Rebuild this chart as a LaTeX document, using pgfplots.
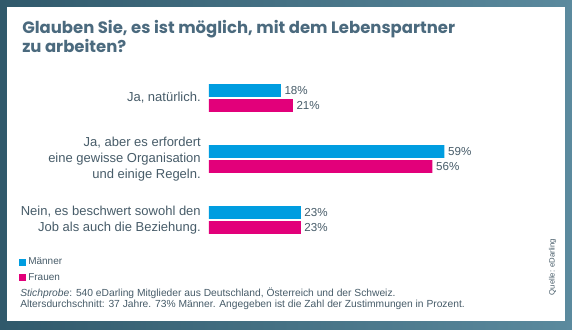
\documentclass[border=0pt]{standalone}
\usepackage{pgfplots}
\pgfplotsset{compat=1.18}
\usepackage{fontspec}
\setmainfont{Liberation Sans}
\newfontfamily\titlefont{Poppins}
\definecolor{bordL}{HTML}{30596B}
\definecolor{bordR}{HTML}{5B8A9E}
\definecolor{titlec}{HTML}{4B6A7E}
\definecolor{txt}{HTML}{475C69}
\definecolor{blueA}{HTML}{009DE0}
\definecolor{pinkA}{HTML}{E2007A}
\begin{document}
\begin{tikzpicture}
\begin{scope}[x=0.75pt,y=-0.75pt]
\shade[left color=bordL, right color=bordR] (0,0) rectangle (572,329);
\fill[white] (7,7) rectangle (565,321);
\node[anchor=base west, inner sep=0pt, align=left, text=titlec,
  font=\titlefont\bfseries\fontsize{12.35}{14.25}\selectfont] at (22,52)
  {Glauben Sie, es ist möglich, mit dem Lebenspartner\\zu arbeiten?};
\node[anchor=base west, inner sep=0pt, align=left, text=txt,
  font=\fontsize{7.7}{8.2}\selectfont] at (20,307)
  {\textit{Stichprobe}: 540 eDarling Mitglieder aus Deutschland, Österreich und der Schweiz.\\
   Altersdurchschnitt: 37 Jahre. 73\% Männer. Angegeben ist die Zahl der Zustimmungen in Prozent.};
\node[rotate=90, inner sep=0pt, text=txt, font=\fontsize{5.8}{6}\selectfont] at (552.5,267) {Quelle: eDarling};
\end{scope}
\begin{axis}[
  at={({209*0.75pt},{-250.5*0.75pt})}, anchor=south west,
  scale only axis, width=239.4pt, height=137.25pt,
  xmin=0, xmax=80, ymin=-0.5, ymax=2.5,
  axis line style={draw=none}, xtick=\empty,
  ytick={0,1,2}, major tick length=0pt,
  yticklabels={{Nein, es beschwert sowohl den\\Job als auch die Beziehung.},
               {Ja, aber es erfordert\\eine gewisse Organisation\\und einige Regeln.},
               {Ja, natürlich.}},
  yticklabel style={align=right, inner sep=0pt, xshift=-6pt, text=txt,
    font=\fontsize{9.75}{12}\selectfont},
  xbar, bar width=9.5pt,
  point meta=x,
  /pgf/number format/assume math mode=true,
  nodes near coords={\pgfmathprintnumber{\pgfplotspointmeta}\%},
  nodes near coords align=horizontal,
  every node near coord/.append style={text=txt, inner sep=2.6pt,
    font=\fontsize{8.7}{10}\selectfont},
  legend style={at={(-0.595,-0.028)}, anchor=north west, draw=none, fill=none,
    inner sep=0pt, row sep=2pt, font=\fontsize{7.5}{9}\selectfont, text=txt,
    nodes={inner sep=1.5pt}},
  legend cell align=left,
]
\addplot[draw=none, fill=blueA, bar shift=5.6pt,
  legend image code/.code={\fill[blueA] (0pt,-2.6pt) rectangle (5.2pt,2.6pt);}]
  coordinates {(23,0) (59,1) (18,2)};
\addlegendentry{Männer}
\addplot[draw=none, fill=pinkA, bar shift=-5.6pt,
  legend image code/.code={\fill[pinkA] (0pt,-2.6pt) rectangle (5.2pt,2.6pt);}]
  coordinates {(23,0) (56,1) (21,2)};
\addlegendentry{Frauen}
\end{axis}
\pgfresetboundingbox
\path[use as bounding box] (0,0) rectangle (429pt,-246.75pt);
\end{tikzpicture}
\end{document}
